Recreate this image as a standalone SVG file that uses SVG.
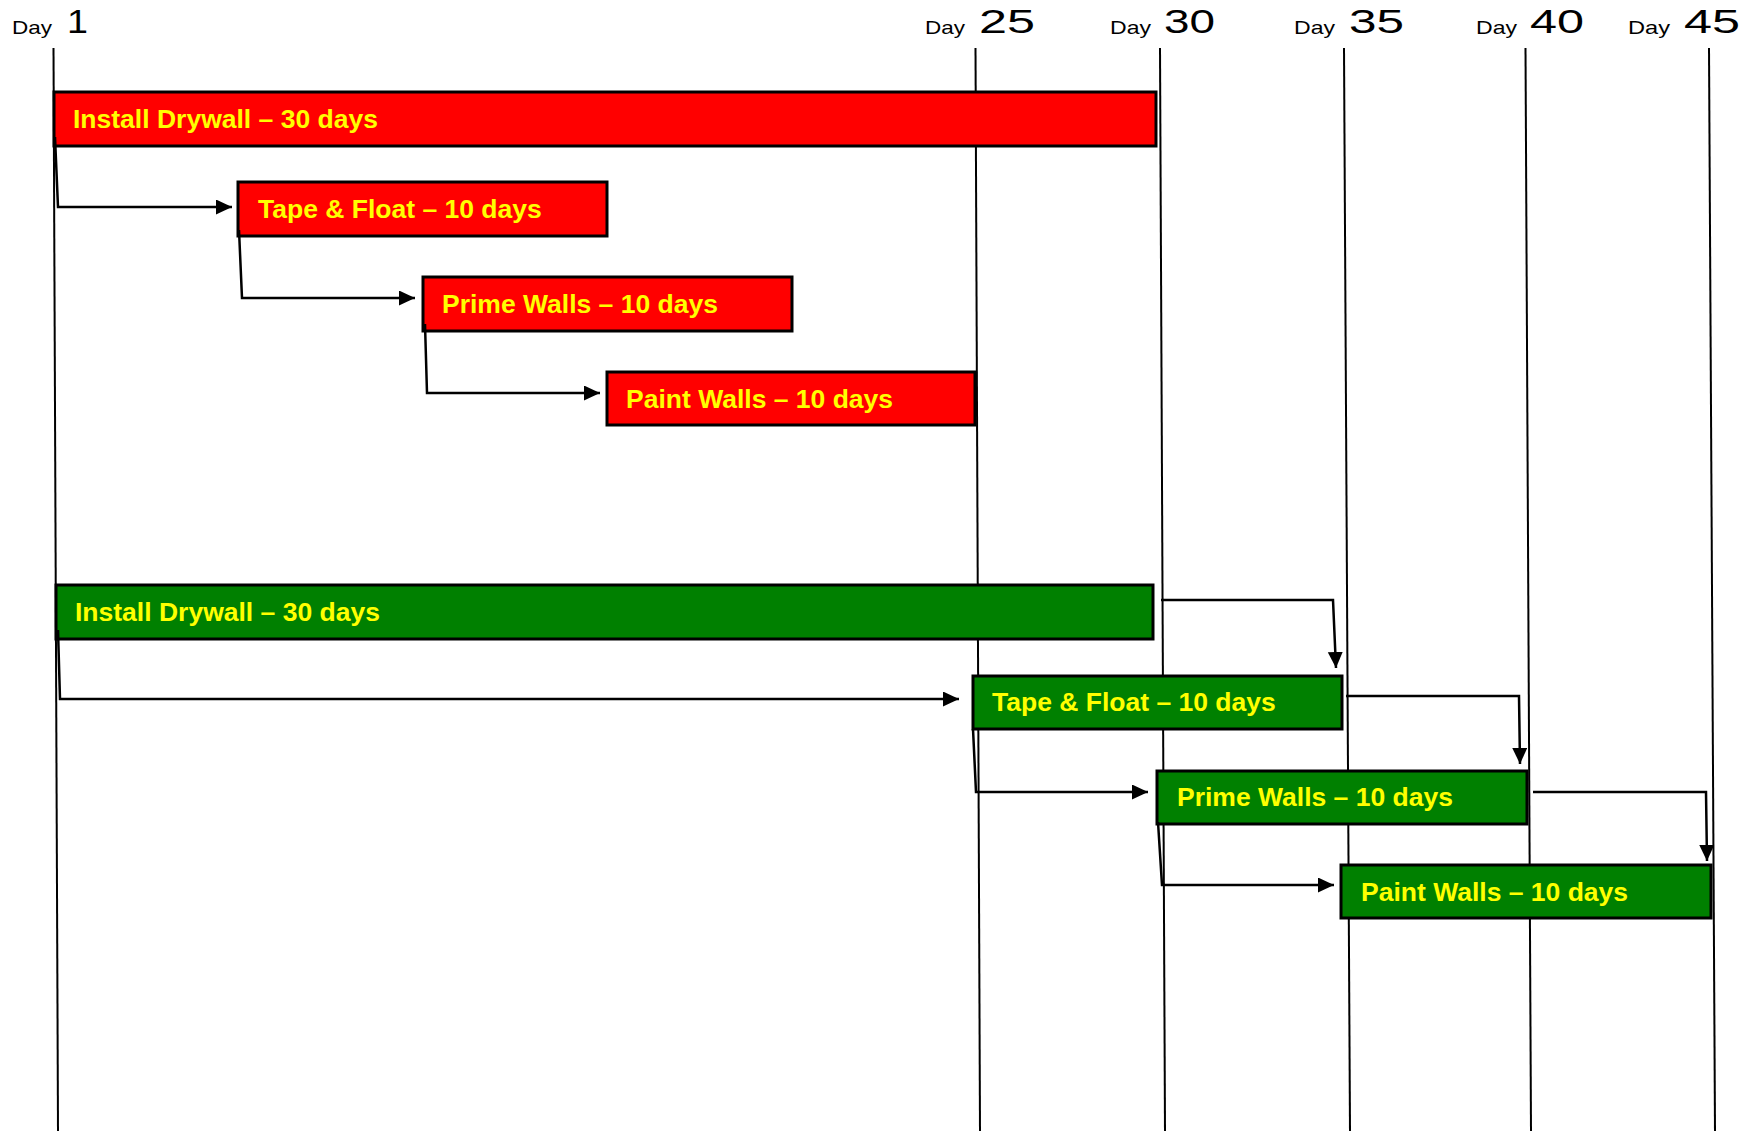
<svg xmlns="http://www.w3.org/2000/svg" width="1764" height="1131" viewBox="0 0 1764 1131">
<style>
.grid line{stroke:#000;stroke-width:2;fill:none}
.day{font-family:"Liberation Sans",Arial,sans-serif;font-size:19px;fill:#000}
.num{font-family:"Liberation Sans",Arial,sans-serif;font-size:33px;fill:#000}
.red{fill:#FF0000;stroke:#000;stroke-width:3}
.green{fill:#008000;stroke:#000;stroke-width:3}
.lbl{font-family:"Liberation Sans",Arial,sans-serif;font-size:26.5px;font-weight:bold;fill:#FFFF00}
.conn path{stroke:#000;stroke-width:2.5;fill:none;marker-end:url(#arr)}
</style>
<defs>
<marker id="arr" markerUnits="userSpaceOnUse" markerWidth="17" markerHeight="16" refX="16" refY="7.5" orient="auto">
<path d="M0,0 L16,7.5 L0,15 z" fill="#000"/>
</marker>
</defs>
<rect width="1764" height="1131" fill="#fff"/>
<g id="timeline" class="grid">
<line x1="53.5" y1="48" x2="58" y2="1131"/>
<line x1="975.5" y1="48" x2="980" y2="1131"/>
<line x1="1160" y1="48" x2="1165" y2="1131"/>
<line x1="1344" y1="48" x2="1350" y2="1131"/>
<line x1="1525.5" y1="48" x2="1531" y2="1131"/>
<line x1="1709" y1="48" x2="1715" y2="1131"/>
</g>
<g id="day-labels">
<g id="lbl-day1"><text class="day" x="12" y="34" textLength="40" lengthAdjust="spacingAndGlyphs">Day</text><text class="num" x="67" y="33" textLength="21" lengthAdjust="spacingAndGlyphs">1</text></g>
<g id="lbl-day25"><text class="day" x="925" y="34" textLength="40" lengthAdjust="spacingAndGlyphs">Day</text><text class="num" x="979" y="33" textLength="56" lengthAdjust="spacingAndGlyphs">25</text></g>
<g id="lbl-day30"><text class="day" x="1110" y="34" textLength="41" lengthAdjust="spacingAndGlyphs">Day</text><text class="num" x="1164" y="33" textLength="51" lengthAdjust="spacingAndGlyphs">30</text></g>
<g id="lbl-day35"><text class="day" x="1294" y="34" textLength="41" lengthAdjust="spacingAndGlyphs">Day</text><text class="num" x="1349" y="33" textLength="55" lengthAdjust="spacingAndGlyphs">35</text></g>
<g id="lbl-day40"><text class="day" x="1476" y="34" textLength="41" lengthAdjust="spacingAndGlyphs">Day</text><text class="num" x="1530" y="33" textLength="54" lengthAdjust="spacingAndGlyphs">40</text></g>
<g id="lbl-day45"><text class="day" x="1628" y="34" textLength="42" lengthAdjust="spacingAndGlyphs">Day</text><text class="num" x="1684" y="33" textLength="56" lengthAdjust="spacingAndGlyphs">45</text></g>
</g>
<g id="red-install"><rect class="red" x="54" y="92" width="1102" height="54"/><text class="lbl" x="73" y="128">Install Drywall – 30 days</text></g>
<g id="red-tape"><rect class="red" x="238" y="182" width="369" height="54"/><text class="lbl" x="258" y="218">Tape &amp; Float – 10 days</text></g>
<g id="red-prime"><rect class="red" x="423" y="277" width="369" height="54"/><text class="lbl" x="442" y="313">Prime Walls – 10 days</text></g>
<g id="red-paint"><rect class="red" x="607" y="372" width="368" height="53"/><text class="lbl" x="626" y="408">Paint Walls – 10 days</text></g>
<g id="green-install"><rect class="green" x="56" y="585" width="1097" height="54"/><text class="lbl" x="75" y="621">Install Drywall – 30 days</text></g>
<g id="green-tape"><rect class="green" x="973" y="676" width="369" height="53"/><text class="lbl" x="992" y="711">Tape &amp; Float – 10 days</text></g>
<g id="green-prime"><rect class="green" x="1157" y="771" width="370" height="53"/><text class="lbl" x="1177" y="806">Prime Walls – 10 days</text></g>
<g id="green-paint"><rect class="green" x="1341" y="865" width="370" height="53"/><text class="lbl" x="1361" y="901">Paint Walls – 10 days</text></g>
<g id="connectors" class="conn">
<path d="M55,137 L58,207 L232,207"/>
<path d="M239,230 L242,298 L415,298"/>
<path d="M425,324 L427,393 L600,393"/>
<path d="M58,630 L60,699 L959,699"/>
<path d="M1161,600 L1333,600 L1336,668"/>
<path d="M973,729 L976,792 L1148,792"/>
<path d="M1346,696 L1519,696 L1520,764"/>
<path d="M1158,822 L1162,885 L1334,885"/>
<path d="M1533,792 L1706,792 L1707,861"/>
</g>
</svg>
